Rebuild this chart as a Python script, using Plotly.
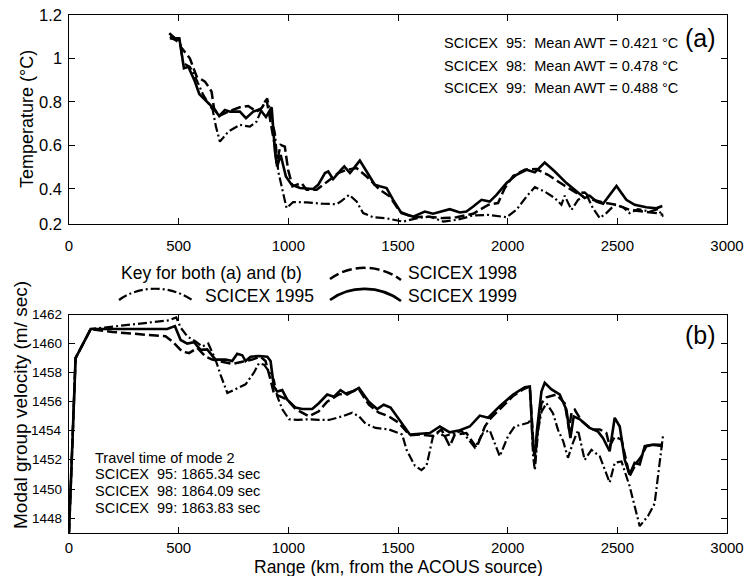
import plotly.graph_objects as go

# ---------------- data ----------------
# (a) Temperature vs range
t95_range = [460, 506, 521, 551, 582, 612, 655, 670, 688, 726, 779, 825, 855, 878, 893, 904, 916, 939, 954, 977,
             992, 1022, 1083, 1159, 1220, 1243, 1277, 1311, 1341, 1387, 1448, 1523, 1584, 1645, 1706, 1767, 1843,
             1911, 1995, 2040, 2086, 2124, 2169, 2215, 2245, 2260, 2291, 2321, 2360, 2389, 2420, 2450, 2488, 2526,
             2556, 2594, 2648, 2685, 2709]
t95_temp = [1.099, 1.069, 0.977, 0.961, 0.900, 0.832, 0.763, 0.686, 0.617, 0.663, 0.694, 0.686, 0.709, 0.763,
            0.801, 0.815, 0.755, 0.655, 0.480, 0.381, 0.312, 0.340, 0.338, 0.332, 0.330, 0.345, 0.373, 0.343,
            0.289, 0.270, 0.265, 0.250, 0.265, 0.273, 0.250, 0.258, 0.278, 0.281, 0.270, 0.304, 0.365, 0.408,
            0.388, 0.358, 0.327, 0.369, 0.304, 0.350, 0.373, 0.311, 0.266, 0.289, 0.327, 0.316, 0.289, 0.307,
            0.296, 0.307, 0.273]

t98_range = [460, 503, 509, 529, 551, 582, 620, 650, 661, 685, 726, 779, 817, 855, 878, 901, 916, 939, 946, 965,
             984, 999, 1019, 1060, 1083, 1129, 1189, 1227, 1265, 1311, 1357, 1417, 1463, 1508, 1569, 1630, 1706,
             1767, 1843, 1911, 1956, 1987, 2025, 2078, 2131, 2184, 2253, 2314, 2351, 2389, 2435, 2496, 2556, 2617,
             2678, 2709]
t98_temp = [1.092, 1.084, 1.053, 1.030, 1.000, 0.916, 0.893, 0.847, 0.771, 0.735, 0.755, 0.775, 0.781, 0.755,
            0.771, 0.809, 0.717, 0.594, 0.518, 0.602, 0.594, 0.488, 0.412, 0.427, 0.396, 0.396, 0.442, 0.473,
            0.488, 0.496, 0.457, 0.396, 0.365, 0.296, 0.270, 0.273, 0.266, 0.270, 0.286, 0.327, 0.335, 0.404,
            0.460, 0.488, 0.491, 0.465, 0.419, 0.381, 0.384, 0.350, 0.338, 0.327, 0.304, 0.296, 0.289, 0.281]

t99_range = [457, 483, 503, 524, 544, 574, 594, 627, 658, 685, 711, 734, 779, 807, 840, 870, 898, 924, 939, 949,
             965, 989, 1015, 1053, 1113, 1136, 1167, 1182, 1204, 1243, 1255, 1281, 1326, 1357, 1394, 1417, 1448,
             1478, 1516, 1569, 1622, 1660, 1691, 1736, 1782, 1812, 1843, 1881, 1918, 1949, 1995, 2040, 2086, 2124,
             2169, 2215, 2268, 2314, 2351, 2374, 2405, 2435, 2465, 2496, 2541, 2579, 2632, 2678, 2705]
t99_temp = [1.115, 1.092, 1.092, 0.954, 0.961, 0.893, 0.836, 0.801, 0.771, 0.735, 0.763, 0.755, 0.755, 0.725,
            0.755, 0.766, 0.730, 0.775, 0.572, 0.503, 0.556, 0.457, 0.419, 0.404, 0.400, 0.419, 0.473, 0.480,
            0.445, 0.491, 0.503, 0.473, 0.530, 0.480, 0.419, 0.412, 0.404, 0.350, 0.289, 0.273, 0.296, 0.286,
            0.296, 0.307, 0.292, 0.296, 0.319, 0.350, 0.342, 0.373, 0.427, 0.465, 0.488, 0.476, 0.521, 0.480,
            0.427, 0.388, 0.358, 0.369, 0.342, 0.332, 0.373, 0.414, 0.350, 0.327, 0.316, 0.311, 0.322]

# (b) Modal group velocity vs range
v95_range = [0, 30, 99, 228, 380, 456, 489, 509, 539, 577, 608, 635, 668, 691, 722, 767, 805, 843, 866, 889, 911,
             934, 949, 972, 1003, 1041, 1094, 1139, 1185, 1246, 1291, 1322, 1352, 1398, 1458, 1519, 1539, 1577,
             1607, 1630, 1660, 1683, 1713, 1736, 1790, 1827, 1850, 1888, 1918, 1964, 2002, 2032, 2093, 2108, 2116,
             2124, 2139, 2154, 2177, 2207, 2230, 2253, 2275, 2298, 2321, 2351, 2382, 2420, 2465, 2488, 2519, 2556,
             2602, 2640, 2670, 2708]
v95_vel = [1447.0, 1459.0, 1461.0, 1461.2, 1461.45, 1461.6, 1461.8, 1461.1, 1460.5, 1460.15, 1459.8, 1460.0,
           1458.9, 1457.85, 1456.6, 1456.95, 1457.2, 1458.0, 1458.65, 1458.55, 1458.1, 1457.5, 1456.4, 1455.5,
           1454.8, 1454.75, 1454.8, 1454.75, 1454.75, 1455.0, 1455.25, 1455.0, 1454.5, 1454.2, 1454.1, 1453.75,
           1452.7, 1451.6, 1451.3, 1451.6, 1453.65, 1453.85, 1453.65, 1453.75, 1454.0, 1453.3, 1452.85, 1453.85,
           1454.05, 1452.25, 1453.65, 1454.3, 1454.55, 1454.8, 1452.25, 1451.3, 1454.05, 1455.3, 1455.9, 1455.2,
           1454.05, 1453.3, 1452.15, 1453.2, 1454.05, 1452.0, 1452.7, 1452.25, 1450.45, 1451.8, 1451.9, 1450.2,
           1447.45, 1448.15, 1449.0, 1453.65]

v98_range = [0, 30, 99, 197, 440, 471, 516, 547, 585, 623, 653, 699, 744, 790, 835, 873, 896, 919, 934, 957, 995,
             1033, 1094, 1139, 1177, 1230, 1268, 1322, 1367, 1413, 1458, 1504, 1554, 1600, 1660, 1698, 1736, 1759,
             1812, 1858, 1896, 1918, 1972, 2025, 2070, 2101, 2116, 2124, 2134, 2154, 2177, 2222, 2260, 2280, 2291,
             2306, 2336, 2382, 2420, 2450, 2465, 2488, 2519, 2541, 2556, 2587, 2610, 2632, 2678, 2708]
v98_vel = [1447.0, 1459.0, 1461.0, 1460.8, 1460.5, 1460.15, 1459.45, 1459.35, 1459.7, 1459.1, 1458.9, 1458.75,
           1458.6, 1458.75, 1458.9, 1459.1, 1458.8, 1457.5, 1456.6, 1456.4, 1456.15, 1455.5, 1455.0, 1455.35,
           1456.0, 1456.5, 1456.6, 1456.85, 1455.8, 1455.25, 1455.0, 1454.55, 1453.7, 1453.75, 1453.65, 1454.1,
           1452.95, 1453.75, 1453.85, 1452.85, 1454.3, 1454.8, 1455.6, 1456.4, 1456.85, 1457.05, 1453.4, 1451.8,
           1453.6, 1455.9, 1456.3, 1456.5, 1455.9, 1454.1, 1455.25, 1455.45, 1454.7, 1454.1, 1454.1, 1453.85,
           1452.95, 1453.6, 1453.4, 1451.8, 1450.9, 1451.8, 1452.25, 1452.95, 1453.05, 1453.05]

v99_range = [0, 30, 99, 448, 483, 509, 539, 570, 600, 630, 668, 714, 744, 767, 790, 805, 828, 866, 904, 919, 934,
             949, 972, 995, 1033, 1063, 1109, 1139, 1177, 1208, 1238, 1268, 1322, 1367, 1405, 1435, 1466, 1504,
             1554, 1600, 1645, 1691, 1736, 1782, 1827, 1873, 1911, 1964, 2025, 2078, 2101, 2116, 2124, 2134, 2154,
             2169, 2200, 2237, 2268, 2286, 2301, 2329, 2374, 2412, 2435, 2465, 2488, 2511, 2534, 2556, 2579, 2602,
             2625, 2663, 2708]
v99_vel = [1447.0, 1459.0, 1461.0, 1461.0, 1461.2, 1460.25, 1460.0, 1460.1, 1459.57, 1459.6, 1458.9, 1458.9,
           1458.8, 1459.3, 1459.2, 1458.8, 1459.1, 1459.15, 1459.1, 1458.8, 1457.05, 1456.7, 1456.8, 1456.15,
           1455.6, 1455.5, 1455.5, 1455.9, 1456.5, 1456.35, 1456.8, 1456.5, 1456.95, 1456.0, 1455.5, 1455.8,
           1455.6, 1454.8, 1453.75, 1453.8, 1453.85, 1454.3, 1453.9, 1454.05, 1454.3, 1455.05, 1454.9, 1455.7,
           1456.5, 1457.0, 1457.05, 1452.95, 1452.25, 1454.1, 1456.7, 1457.3, 1456.85, 1456.5, 1455.45, 1453.5,
           1455.0, 1454.8, 1454.2, 1453.95, 1453.5, 1452.6, 1454.9, 1454.3, 1452.0, 1451.0, 1451.8, 1451.7,
           1452.95, 1453.05, 1452.95]

x_ticks = [0, 500, 1000, 1500, 2000, 2500, 3000]
temp_tickvals = [0.239, 0.4, 0.6, 0.8, 1.0, 1.2]
temp_ticktext = ["0.2", "0.4", "0.6", "0.8", "1", "1.2"]
vel_ticks = [1448, 1450, 1452, 1454, 1456, 1458, 1460, 1462]

awt_lines = ["SCICEX\u00a0 95:\u00a0 Mean AWT = 0.421 °C",
             "SCICEX\u00a0 98:\u00a0 Mean AWT = 0.478 °C",
             "SCICEX\u00a0 99:\u00a0 Mean AWT = 0.488 °C"]
tt_lines = ["Travel time of mode 2",
            "SCICEX\u00a0 95: 1865.34 sec",
            "SCICEX\u00a0 98: 1864.09 sec",
            "SCICEX\u00a0 99: 1863.83 sec"]

# ---------------- figure ----------------
W, H = 754, 576
FONT = "Liberation Sans, Arial, Helvetica, sans-serif"


def px(x):
    return x / W


def py(y):
    return 1 - y / H


SOLID = dict(color="black", width=2.6, dash="solid")
DASH = dict(color="black", width=2.5, dash="10px,4px")
DASHDOT = dict(color="black", width=2.2, dash="9px,3px,2px,3px")

fig = go.Figure()
fig.add_trace(go.Scatter(x=t95_range, y=t95_temp, mode="lines", line=DASHDOT, xaxis="x", yaxis="y"))
fig.add_trace(go.Scatter(x=t98_range, y=t98_temp, mode="lines", line=DASH, xaxis="x", yaxis="y"))
fig.add_trace(go.Scatter(x=t99_range, y=t99_temp, mode="lines", line=SOLID, xaxis="x", yaxis="y"))
fig.add_trace(go.Scatter(x=v95_range, y=v95_vel, mode="lines", line=DASHDOT, xaxis="x2", yaxis="y2"))
fig.add_trace(go.Scatter(x=v98_range, y=v98_vel, mode="lines", line=DASH, xaxis="x2", yaxis="y2"))
fig.add_trace(go.Scatter(x=v99_range, y=v99_vel, mode="lines", line=SOLID, xaxis="x2", yaxis="y2"))

axis_common = dict(showgrid=False, zeroline=False, showline=True, linecolor="black", linewidth=1.3,
                   mirror="ticks", ticks="inside", ticklen=6, tickwidth=1, tickcolor="black",
                   automargin=False)


def tf(size):
    return dict(family=FONT, size=size, color="black")


xdom = [px(69), px(727)]
fig.update_layout(
    width=W, height=H, margin=dict(l=0, r=0, t=0, b=0),
    paper_bgcolor="white", plot_bgcolor="white", showlegend=False,
    font=dict(family=FONT, color="black"),
    xaxis=dict(domain=xdom, range=[0, 3000], tickvals=x_ticks, anchor="y",
               ticklabelstandoff=8, tickfont=tf(15), **axis_common),
    yaxis=dict(domain=[py(224), py(14.7)], range=[0.239, 1.2], tickvals=temp_tickvals,
               showticklabels=False, anchor="x", **axis_common),
    xaxis2=dict(domain=xdom, range=[0, 3000], tickvals=x_ticks, anchor="y2",
                ticklabelstandoff=1, tickfont=tf(15), **axis_common),
    yaxis2=dict(domain=[py(532.7), py(314.5)], range=[1447, 1462], tickvals=vel_ticks,
                showticklabels=False, anchor="x2", **axis_common),
)

ann = []


def text(s, x, y, size, xanchor="left", angle=0):
    ann.append(dict(text=s, x=px(x), y=py(y), xref="paper", yref="paper", xanchor=xanchor,
                    yanchor="middle", showarrow=False, textangle=angle,
                    font=dict(family=FONT, size=size, color="black")))


# y tick labels placed at their data values
for v, s in zip(temp_tickvals, temp_ticktext):
    ann.append(dict(text=s, x=px(63.5), y=v, xref="paper", yref="y", xanchor="right", yanchor="middle",
                    showarrow=False, font=tf(16.5)))
for v in vel_ticks:
    ann.append(dict(text=str(v), x=px(63.5), y=v, xref="paper", yref="y2", xanchor="right", yanchor="middle",
                    showarrow=False, font=tf(13.5)))

text("Temperature (°C)", 27, 119, 18, xanchor="center", angle=-90)
text("Modal group velocity (m/ sec)", 20, 405, 19, xanchor="center", angle=-90)
text("Range (km, from the ACOUS source)", 398, 567, 17.5, xanchor="center")
text("(a)", 718, 38, 25, xanchor="right")
text("(b)", 718, 335, 25, xanchor="right")
for i, s in enumerate(awt_lines):
    text(s, 442, 42.7 + 22.8 * i, 14.5)
for i, s in enumerate(tt_lines):
    text(s, 93, 457.7 + 16.7 * i, 14.5)
# legend key
text("Key for both (a) and (b)", 119, 273, 17.5)
text("SCICEX 1998", 406, 273, 17.5)
text("SCICEX 1995", 203, 296, 17.5)
text("SCICEX 1999", 406, 296, 17.5)
fig.update_layout(annotations=ann)


def arc(x0, y0, x1, y1, h):
    return (f"M {px(x0)},{py(y0)} C {px(x0 + (x1 - x0) * 0.28)},{py(y0 - h)} "
            f"{px(x0 + (x1 - x0) * 0.7)},{py(y0 - h)} {px(x1)},{py(y1)}")


shapes = [
    dict(type="path", path=arc(330, 279, 401, 280, 15), xref="paper", yref="paper", line=DASH),
    dict(type="path", path=arc(119, 300, 192, 300, 15), xref="paper", yref="paper", line=DASHDOT),
    dict(type="path", path=arc(330, 300, 401, 301, 15), xref="paper", yref="paper", line=SOLID),
]
fig.update_layout(shapes=shapes)

fig.write_html("out.html")
